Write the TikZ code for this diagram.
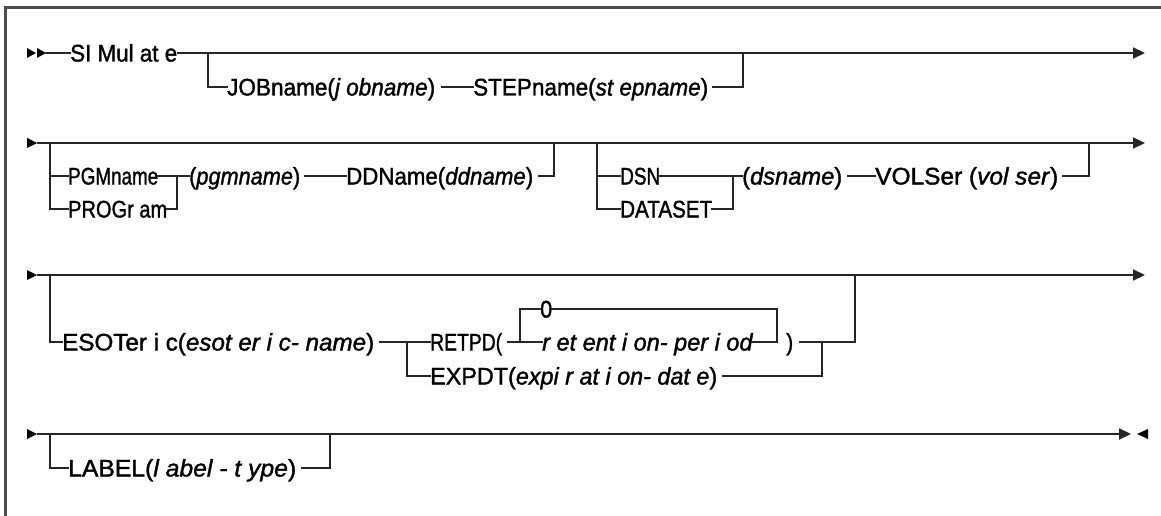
\documentclass[tikz,border=0pt]{standalone}
\usepackage{fontspec}
\setmainfont{Liberation Sans}[FakeBold=1.5]
\usetikzlibrary{arrows.meta}
\newcommand{\fitw}[2]{\sbox0{#2}\scalebox{\fpeval{(#1pt)/(\wd0)}}[1]{\usebox0}}
\begin{document}
\begin{tikzpicture}[x=1pt,y=-1pt,
  rr/.style={line width=2pt, draw=black!85, line cap=rect},
  rrend/.style={line width=2pt, draw=black!85, -{Triangle[length=12pt,width=11pt]}},
  txt/.style={inner sep=0pt, anchor=base west, font=\fontsize{24}{28}\selectfont, text=black},
  frame/.style={line width=3pt, draw=black!70},
  tri/.style={fill=black}]
\useasboundingbox (0,0) rectangle (1161,516);
\draw[frame] (5,516) -- (5,8) -- (1161,8);

% ---------- row 1 ----------
\coordinate (r1a) at (45,53);
\coordinate (r1end) at (1145,53);
\coordinate (b1l) at (208,53);
\coordinate (r1b) at (208,87);
\coordinate (b1r) at (743,53);
\fill[tri] (27,48) -- (36,53) -- (27,58) -- cycle;
\fill[tri] (37,48) -- (46,53) -- (37,58) -- cycle;
\node[txt] (sim) at (70,61.5) {\fitw{107}{SI Mul at e}};
\node[txt] (job) at (227,95.5) {\fitw{208}{JOBname(\textit{j obname})}};
\node[txt] (step) at (473,95.5) {\fitw{235}{STEPname(\textit{st epname})}};
\draw[rr] (r1a) -- (sim.west |- r1a);
\draw[rrend] (sim.east |- r1a) -- (r1end);
\draw[rr] (b1l) -- (r1b) -- (job.west |- r1b);
\draw[rr] ([xshift=7pt]job.east |- r1b) -- (step.west |- r1b);
\draw[rr] ([xshift=5pt]step.east |- r1b) -| (b1r);

% ---------- row 2 ----------
\coordinate (r2s) at (37,143);
\coordinate (r2e) at (1145,143);
\coordinate (c2a) at (50,143);
\coordinate (c2b) at (50,176);
\coordinate (c2c) at (50,209);
\coordinate (c2d) at (177,176);
\coordinate (c2e) at (177,209);
\coordinate (c2f) at (554,143);
\coordinate (c2g) at (597,143);
\coordinate (c2h) at (597,176);
\coordinate (c2i) at (597,209);
\coordinate (c2j) at (733,176);
\coordinate (c2k) at (733,209);
\coordinate (c2l) at (1089,143);
\fill[tri] (27,138) -- (37,143) -- (27,148) -- cycle;
\draw[rrend] (r2s) -- (r2e);
\node[txt] (pgm) at (68,184.5) {\fitw{90}{PGMname}};
\node[txt] (prog) at (68,217.5) {\fitw{99}{PROGr am}};
\node[txt] (pgmn) at (189,184.5) {\fitw{111}{(\textit{pgmname})}};
\node[txt] (ddn) at (346,184.5) {\fitw{187}{DDName(\textit{ddname})}};
\node[txt] (dsn) at (620,184.5) {\fitw{40}{DSN}};
\node[txt] (dset) at (620,217.5) {\fitw{92}{DATASET}};
\node[txt] (dsnm) at (742,184.5) {\fitw{100}{(\textit{dsname})}};
\node[txt] (vol) at (875,184.5) {\fitw{183}{VOLSer (\textit{vol ser})}};
\draw[rr] (c2a) -- (c2c) -- (prog.west |- c2c);
\draw[rr] (c2b) -- (pgm.west |- c2b);
\draw[rr] (pgm.east |- c2b) -- (c2d) -- (pgmn.west |- c2d);
\draw[rr] (prog.east |- c2e) -- (c2e) -- (c2d);
\draw[rr] ([xshift=5pt]pgmn.east |- c2d) -- (ddn.west |- c2d);
\draw[rr] ([xshift=6pt]ddn.east |- c2d) -| (c2f);
\draw[rr] (c2g) -- (c2i) -- (dset.west |- c2i);
\draw[rr] (c2h) -- (dsn.west |- c2h);
\draw[rr] (dsn.east |- c2h) -- (c2j) -- (dsnm.west |- c2j);
\draw[rr] (dset.east |- c2k) -- (c2k) -- (c2j);
\draw[rr] ([xshift=6pt]dsnm.east |- c2j) -- (vol.west |- c2j);
\draw[rr] ([xshift=5pt]vol.east |- c2j) -| (c2l);

% ---------- row 3 ----------
\coordinate (r3s) at (37,275);
\coordinate (r3e) at (1145,275);
\coordinate (c3a) at (50,275);
\coordinate (c3b) at (50,342);
\coordinate (c3c) at (407,342);
\coordinate (c3d) at (407,376);
\coordinate (c3e) at (520,342);
\coordinate (c3f) at (520,309);
\coordinate (c3g) at (777,309);
\coordinate (c3h) at (777,342);
\coordinate (c3i) at (822,342);
\coordinate (c3j) at (822,376);
\coordinate (c3k) at (855,342);
\coordinate (c3l) at (855,275);
\fill[tri] (27,270) -- (37,275) -- (27,280) -- cycle;
\draw[rrend] (r3s) -- (r3e);
\node[txt] (eso) at (62,350.5) {\fitw{312}{ESOTer i c(\textit{esot er i c- name})}};
\node[txt] (ret) at (430,350.5) {\fitw{72}{RETPD(}};
\node[txt] (exp) at (430,384.5) {\fitw{287}{EXPDT(\textit{expi r at i on- dat e})}};
\node[txt] (zero) at (540,317.5) {\fitw{12}{0}};
\node[txt] (per) at (542,350.5) {\fitw{211}{\textit{r et ent i on- per i od}}};
\node[txt] (cp) at (786,350.5) {\fitw{7}{)}};
\draw[rr] (c3a) -- (c3b) -- (eso.west |- c3b);
\draw[rr] ([xshift=6pt]eso.east |- c3b) -- (ret.west |- c3b);
\draw[rr] (c3c) -- (c3d) -- (exp.west |- c3d);
\draw[rr] ([xshift=6pt]ret.east |- c3e) -- (per.west |- c3e);
\draw[rr] (c3e) -- (c3f) -- (zero.west |- c3f);
\draw[rr] (zero.east |- c3f) -- (c3g) -- (c3h);
\draw[rr] (per.east |- c3h) -- (c3h);
\draw[rr] ([xshift=7pt]cp.east |- c3i) -- (c3k) -- (c3l);
\draw[rr] ([xshift=6pt]exp.east |- c3j) -- (c3j) -- (c3i);

% ---------- row 4 ----------
\coordinate (r4s) at (37,434);
\coordinate (r4e) at (1131,434);
\coordinate (c4a) at (50,434);
\coordinate (c4b) at (50,468);
\coordinate (c4c) at (330,434);
\fill[tri] (27,429) -- (37,434) -- (27,439) -- cycle;
\draw[rrend] (r4s) -- (r4e);
\fill[tri] (1148,429) -- (1137,434) -- (1148,439) -- cycle;
\node[txt] (lab) at (68,476.5) {\fitw{228}{LABEL(\textit{l abel - t ype})}};
\draw[rr] (c4a) -- (c4b) -- (lab.west |- c4b);
\draw[rr] ([xshift=6pt]lab.east |- c4b) -| (c4c);
\end{tikzpicture}
\end{document}
